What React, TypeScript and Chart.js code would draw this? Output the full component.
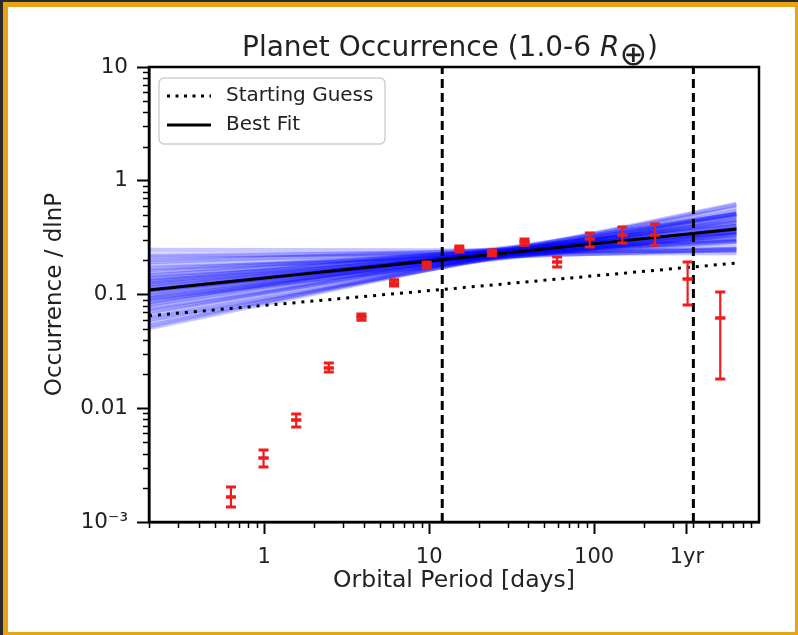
import React, { useEffect, useRef } from "react";
import { Chart, registerables } from "chart.js";

Chart.register(...registerables);

// ---------- data ----------
const periods = [0.628, 0.99, 1.562, 2.463, 3.884, 6.124, 9.656, 15.23, 24.01, 37.86, 59.7, 94.15, 148.4, 234.1, 369.1, 582.1];
const occurrence = [0.00166, 0.00365, 0.00788, 0.0226, 0.0634, 0.1263, 0.1816, 0.2512, 0.2316, 0.2893, 0.1931, 0.3075, 0.3335, 0.3335, 0.1369, 0.0622];
const occurrenceLow = [0.001355, 0.00304, 0.00684, 0.0208, 0.0595, 0.1186, 0.1705, 0.2359, 0.2175, 0.2716, 0.1746, 0.2616, 0.2836, 0.2723, 0.0809, 0.0181];
const occurrenceHigh = [0.00203, 0.0043, 0.0089, 0.025, 0.0675, 0.1345, 0.1934, 0.2675, 0.2467, 0.3081, 0.2136, 0.3472, 0.3922, 0.4167, 0.1931, 0.1052];

const fitPeriods = [0.2, 730];
const bestFit = [0.1096, 0.3767];
const startingGuess = [0.065, 0.189];

// posterior samples: occurrence at the two ends of the fit range
const sampleStart = [0.1097, 0.1213, 0.0991, 0.1342, 0.0895, 0.1485, 0.0809, 0.1644, 0.0732, 0.1819, 0.0661, 0.2012, 0.0598, 0.2227, 0.0529, 0.2464, 0.0508, 0.1142, 0.1032, 0.1289, 0.0933, 0.1398, 0.086, 0.1578, 0.0762, 0.1712, 0.0703, 0.1932, 0.0622, 0.1075, 0.1189, 0.0971, 0.1238, 0.0826, 0.1456, 0.0562, 0.2138, 0.0914, 0.1316, 0.1097];
const sampleEnd = [0.3767, 0.3336, 0.434, 0.3617, 0.3767, 0.2954, 0.4901, 0.3015, 0.452, 0.2463, 0.5762, 0.2513, 0.5207, 0.2318, 0.6249, 0.2413, 0.6122, 0.4168, 0.3404, 0.4003, 0.3545, 0.2895, 0.5104, 0.3139, 0.4612, 0.2513, 0.5104, 0.2895, 0.4901, 0.4003, 0.3404, 0.4003, 0.3545, 0.5104, 0.3545, 0.5422, 0.2617, 0.4429, 0.3077, 0.3336];

const boundaryPeriods = [12, 400];

const xTickValues = [1, 10, 100, 365.25];
const xTickLabels = ["1", "10", "100", "1yr"];
const yTickValues = [0.001, 0.01, 0.1, 1, 10];
const yTickLabels = ["10\u207B\u00B3", "0.01", "0.1", "1", "10"];

const legendLabels = ["Starting Guess", "Best Fit"];
const titleMain = "Planet Occurrence (1.0-6 ";
const titleUnit = "R";
const titleSub = "\u2295";
const titleEnd = ")";
const xAxisTitle = "Orbital Period [days]";
const yAxisTitle = "Occurrence / dlnP";

// ---------- style ----------
const FONT = '"DejaVu Sans", "Liberation Sans", sans-serif';
const TEXT = "#222222";
const RED = "#ee1c1c";
const ORANGE = "#e8a317";

const X_MIN = 0.2;
const X_MAX = 1000;
const Y_MIN = 0.001;
const Y_MAX = 10;

function minorValues(min: number, max: number) {
  const out: number[] = [];
  for (let e = Math.floor(Math.log10(min)); e <= Math.ceil(Math.log10(max)); e++) {
    for (let m = 2; m <= 9; m++) {
      const v = m * Math.pow(10, e);
      if (v >= min * 0.999 && v <= max * 1.001) out.push(v);
    }
  }
  return out;
}

const framePlugin = {
  id: "frame",
  beforeDraw(chart: any) {
    const { ctx, width, height } = chart;
    ctx.save();
    ctx.fillStyle = "#2a2a2a";
    ctx.fillRect(0, 0, width, height);
    ctx.fillStyle = ORANGE;
    ctx.fillRect(3, 2, width - 3, height - 2);
    ctx.fillStyle = "#ffffff";
    ctx.fillRect(8, 7, width - 3 - 8, height - 3 - 7);
    ctx.restore();
  },
};

const errorBarPlugin = {
  id: "errorBars",
  afterDatasetsDraw(chart: any) {
    const { ctx, chartArea, scales } = chart;
    const x = scales.x;
    const y = scales.y;
    ctx.save();
    ctx.beginPath();
    ctx.rect(chartArea.left, chartArea.top, chartArea.right - chartArea.left, chartArea.bottom - chartArea.top);
    ctx.clip();
    ctx.strokeStyle = RED;
    periods.forEach((p, i) => {
      const px = x.getPixelForValue(p);
      const yl = y.getPixelForValue(occurrenceLow[i]);
      const yh = y.getPixelForValue(occurrenceHigh[i]);
      const yc = y.getPixelForValue(occurrence[i]);
      ctx.lineWidth = 2.2;
      ctx.beginPath();
      ctx.moveTo(px, yl);
      ctx.lineTo(px, yh);
      ctx.stroke();
      ctx.lineWidth = 3;
      ctx.beginPath();
      ctx.moveTo(px - 5, yl);
      ctx.lineTo(px + 5, yl);
      ctx.moveTo(px - 5, yh);
      ctx.lineTo(px + 5, yh);
      ctx.moveTo(px - 5, yc);
      ctx.lineTo(px + 5, yc);
      ctx.stroke();
    });
    ctx.restore();
  },
};

const decorPlugin = {
  id: "decor",
  afterDraw(chart: any) {
    const { ctx, chartArea, scales } = chart;
    const x = scales.x;
    const y = scales.y;
    ctx.save();

    // minor ticks
    ctx.strokeStyle = "#000";
    ctx.lineWidth = 1.5;
    ctx.beginPath();
    minorValues(X_MIN, X_MAX).forEach((v) => {
      const px = Math.round(x.getPixelForValue(v)) + 0.5;
      ctx.moveTo(px, chartArea.bottom);
      ctx.lineTo(px, chartArea.bottom + 6);
    });
    minorValues(Y_MIN, Y_MAX).forEach((v) => {
      const py = Math.round(y.getPixelForValue(v)) + 0.5;
      ctx.moveTo(chartArea.left, py);
      ctx.lineTo(chartArea.left - 6, py);
    });
    ctx.stroke();

    // axes frame
    ctx.lineWidth = 2.5;
    ctx.strokeStyle = "#000";
    ctx.strokeRect(chartArea.left, chartArea.top, chartArea.right - chartArea.left, chartArea.bottom - chartArea.top);

    // legend
    const lx = 159, ly = 78, lw = 226, lh = 66;
    ctx.fillStyle = "rgba(255,255,255,0.85)";
    ctx.strokeStyle = "#cfcfcf";
    ctx.lineWidth = 1.5;
    ctx.beginPath();
    (ctx as any).roundRect(lx, ly, lw, lh, 5);
    ctx.fill();
    ctx.stroke();

    ctx.strokeStyle = "#000";
    ctx.lineWidth = 3;
    ctx.setLineDash([3, 5.5]);
    ctx.beginPath();
    ctx.moveTo(167, 96);
    ctx.lineTo(211, 96);
    ctx.stroke();
    ctx.setLineDash([]);
    ctx.beginPath();
    ctx.moveTo(167, 125);
    ctx.lineTo(211, 125);
    ctx.stroke();

    ctx.fillStyle = TEXT;
    ctx.font = `20px ${FONT}`;
    ctx.textAlign = "left";
    ctx.textBaseline = "middle";
    ctx.fillText(legendLabels[0], 226, 96);
    ctx.fillText(legendLabels[1], 226, 125);

    // title
    const f = `28px ${FONT}`;
    const fi = `italic 28px ${FONT}`;
    const fs = `33px ${FONT}`;
    const parts = [
      { t: titleMain, font: f, dy: 0 },
      { t: titleUnit, font: fi, dy: 0 },
      { t: titleSub, font: fs, dy: 9 },
      { t: titleEnd, font: f, dy: 0 },
    ];
    let total = 0;
    parts.forEach((p) => {
      ctx.font = p.font;
      total += ctx.measureText(p.t).width;
    });
    let cx = 242;
    ctx.textBaseline = "alphabetic";
    ctx.fillStyle = TEXT;
    parts.forEach((p) => {
      ctx.font = p.font;
      ctx.fillText(p.t, cx, 56 + p.dy);
      cx += ctx.measureText(p.t).width;
    });

    ctx.restore();
  },
};

export default function App() {
  const canvasRef = useRef<HTMLCanvasElement | null>(null);

  useEffect(() => {
    if (!canvasRef.current) return;

    const datasets: any[] = [];

    datasets.push({
      label: "Occurrence",
      data: periods.map((p, i) => ({ x: p, y: occurrence[i] })),
      showLine: false,
      pointStyle: "line",
      pointRadius: 5,
      borderColor: RED,
      backgroundColor: RED,
      borderWidth: 3,
      order: 0,
    });

    boundaryPeriods.forEach((p) => {
      datasets.push({
        label: "boundary",
        data: [
          { x: p, y: Y_MIN },
          { x: p, y: Y_MAX },
        ],
        showLine: true,
        borderColor: "#000",
        borderWidth: 3,
        borderDash: [9, 5],
        pointRadius: 0,
        order: 1,
      });
    });

    datasets.push({
      label: legendLabels[1],
      data: fitPeriods.map((p, i) => ({ x: p, y: bestFit[i] })),
      showLine: true,
      borderColor: "#000",
      borderWidth: 3,
      pointRadius: 0,
      order: 2,
    });

    datasets.push({
      label: legendLabels[0],
      data: fitPeriods.map((p, i) => ({ x: p, y: startingGuess[i] })),
      showLine: true,
      borderColor: "#000",
      borderWidth: 3,
      borderDash: [3, 6],
      pointRadius: 0,
      order: 3,
    });

    sampleStart.forEach((s, i) => {
      datasets.push({
        label: "sample",
        data: [
          { x: fitPeriods[0], y: s },
          { x: fitPeriods[1], y: sampleEnd[i] },
        ],
        showLine: true,
        borderColor: "rgba(0,0,255,0.22)",
        borderWidth: 4.5,
        pointRadius: 0,
        order: 5,
      });
    });

    const chart = new Chart(canvasRef.current, {
      type: "scatter",
      data: { datasets },
      options: {
        animation: false,
        responsive: false,
        maintainAspectRatio: false,
        devicePixelRatio: 1,
        events: [],
        layout: { padding: { top: 67, right: 39, left: 0, bottom: 0 } },
        plugins: {
          legend: { display: false },
          tooltip: { enabled: false },
          title: { display: false },
        },
        scales: {
          x: {
            type: "logarithmic",
            position: "bottom",
            min: X_MIN,
            max: X_MAX,
            afterBuildTicks: (s: any) => {
              s.ticks = xTickValues.map((v) => ({ value: v, major: true }));
            },
            afterFit: (s: any) => {
              s.height = 113;
            },
            ticks: {
              autoSkip: false,
              maxRotation: 0,
              minRotation: 0,
              padding: 11,
              color: TEXT,
              font: { family: FONT, size: 21 },
              callback: (_v: any, i: number) => xTickLabels[i],
            },
            grid: {
              display: true,
              drawOnChartArea: false,
              drawTicks: true,
              tickLength: 12,
              tickWidth: 2,
              tickColor: "#000",
            },
            border: { display: true, color: "#000", width: 2.5 },
            title: {
              display: true,
              text: xAxisTitle,
              color: TEXT,
              font: { family: FONT, size: 23.5 },
              padding: { top: 0, bottom: 40 },
            },
          },
          y: {
            type: "logarithmic",
            position: "left",
            min: Y_MIN,
            max: Y_MAX,
            afterBuildTicks: (s: any) => {
              s.ticks = yTickValues.map((v) => ({ value: v, major: true }));
            },
            afterFit: (s: any) => {
              s.width = 149;
            },
            ticks: {
              autoSkip: false,
              padding: 9,
              color: TEXT,
              font: { family: FONT, size: 21.5 },
              callback: (_v: any, i: number) => yTickLabels[i],
            },
            grid: {
              display: true,
              drawOnChartArea: false,
              drawTicks: true,
              tickLength: 12,
              tickWidth: 2,
              tickColor: "#000",
            },
            border: { display: true, color: "#000", width: 2.5 },
            title: {
              display: true,
              text: yAxisTitle,
              color: TEXT,
              font: { family: FONT, size: 23 },
              padding: { top: 41, bottom: 0 },
            },
          },
        },
      } as any,
      plugins: [framePlugin, errorBarPlugin, decorPlugin],
    });

    return () => chart.destroy();
  }, []);

  return (
    <div style={{ position: "fixed", left: 0, top: 0, width: 798, height: 635 }}>
      <canvas ref={canvasRef} width={798} height={635} style={{ width: 798, height: 635, display: "block" }} />
    </div>
  );
}
